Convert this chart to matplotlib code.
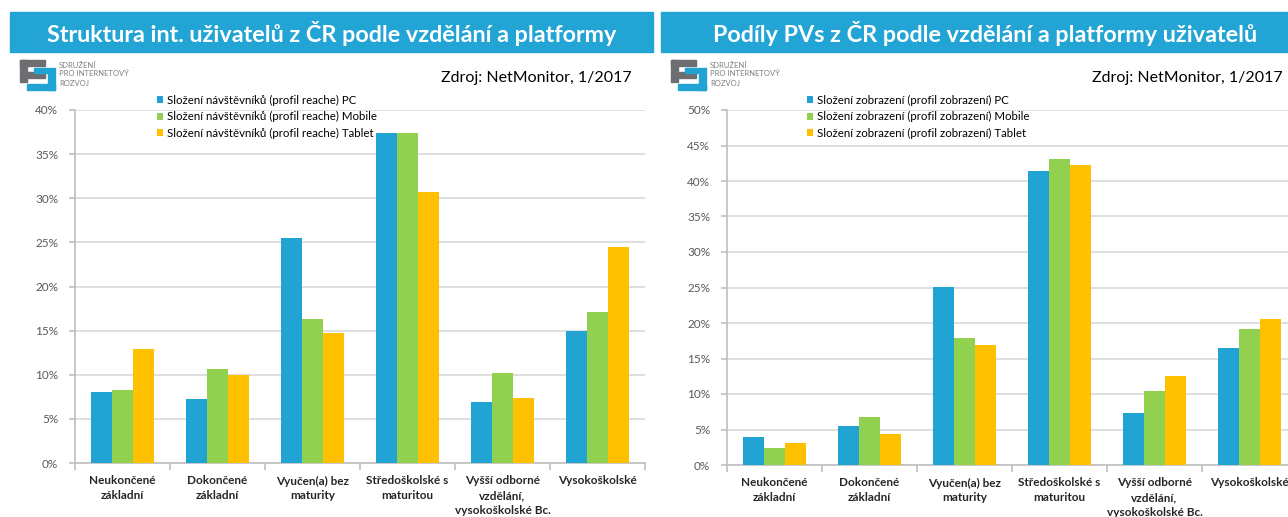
import matplotlib
matplotlib.use('Agg')
import matplotlib.pyplot as plt
from matplotlib.patches import Rectangle
from matplotlib.ticker import PercentFormatter, FixedLocator
import numpy as np

W, H = 1288, 517

categories = ['Neukončené\nzákladní', 'Dokončené\nzákladní', 'Vyučen(a) bez\nmaturity',
              'Středoškolské s\nmaturitou', 'Vyšší odborné\nvzdělání,\nvysokoškolské Bc.',
              'Vysokoškolské']

# levý graf - struktura uživatelů (profil reache), v %
reach_pc = [8.1, 7.2, 25.5, 37.4, 6.9, 15.0]
reach_mobile = [8.3, 10.7, 16.3, 37.4, 10.2, 17.1]
reach_tablet = [12.9, 10.0, 14.7, 30.7, 7.4, 24.5]
reach_labels = ['Složení návštěvníků (profil reache) PC',
                'Složení návštěvníků (profil reache) Mobile',
                'Složení návštěvníků (profil reache) Tablet']

# pravý graf - podíly PVs (profil zobrazení), v %
pv_pc = [4.0, 5.5, 25.1, 41.4, 7.3, 16.5]
pv_mobile = [2.4, 6.8, 17.9, 43.1, 10.4, 19.2]
pv_tablet = [3.1, 4.4, 16.9, 42.2, 12.6, 20.6]
pv_labels = ['Složení zobrazení (profil zobrazení) PC',
             'Složení zobrazení (profil zobrazení) Mobile',
             'Složení zobrazení (profil zobrazení) Tablet']

titles = ['Struktura int. uživatelů z ČR podle vzdělání a platformy',
          'Podíly PVs z ČR podle vzdělání a platformy uživatelů']
source = 'Zdroj: NetMonitor, 1/2017'

colors = ['#21A3D3', '#92D050', '#FFC000']
banner_color = '#22A4D4'
grid_color = '#D9D9D9'
axis_color = '#BFBFBF'
tick_color = '#595959'

plt.rcParams['font.family'] = ['Lato', 'DejaVu Sans']


def fx(x):
    return x / W


def fy(y):
    return 1 - y / H


fig = plt.figure(figsize=(W / 100, H / 100), dpi=100)


def draw_header(x0, x1, title_cx, title, src_right):
    fig.patches.append(Rectangle((fx(x0), fy(52)), fx(x1 - x0), 40 / H,
                                 transform=fig.transFigure, color=banner_color, zorder=0))
    fig.text(fx(title_cx), fy(33), title, color='white', fontsize=16.8, fontweight='bold',
             ha='center', va='center')
    fig.text(fx(src_right), fy(78), source, color='black', fontsize=11.5,
             ha='right', va='center')
    # logo SPIR
    gray = '#6D6E71'
    blue = '#21A3D3'
    lx, ly = x0 + 10, 60
    shapes = [
        (lx, ly, 25, 6, gray), (lx, ly, 7, 22, gray), (lx + 7, ly + 12, 18, 6, gray),
        (lx + 28, ly + 8, 7, 22, blue), (lx + 7, ly + 24, 28, 6, blue),
        (lx + 14, ly + 8, 14, 5, blue),
    ]
    for sx, sy, sw, sh, c in shapes:
        fig.patches.append(Rectangle((fx(sx), fy(sy + sh)), sw / W, sh / H,
                                     transform=fig.transFigure, color=c, zorder=1))
    for i, line in enumerate(['SDRUŽENÍ', 'PRO INTERNETOVÝ', 'ROZVOJ']):
        fig.text(fx(lx + 39), fy(ly + 5 + 9 * i), line, color='#7F7F7F', fontsize=5.5,
                 ha='left', va='center')


def draw_chart(rect, series, labels, ymax, legend_xy):
    ax = fig.add_axes(rect)
    x = np.arange(len(categories))
    w = 0.218
    for k, (vals, lab) in enumerate(zip(series, labels)):
        ax.bar(x + (k - 1) * w, vals, width=w, color=colors[k], label=lab, zorder=3)
    ax.set_xlim(-0.5, len(categories) - 0.5)
    ax.set_ylim(0, ymax)
    ax.yaxis.set_major_locator(FixedLocator(np.arange(0, ymax + 0.1, 5)))
    ax.yaxis.set_major_formatter(PercentFormatter(decimals=0))
    ax.grid(axis='y', color=grid_color, linewidth=1.2, zorder=0)
    ax.set_axisbelow(True)
    for s in ['top', 'right']:
        ax.spines[s].set_visible(False)
    for s in ['left', 'bottom']:
        ax.spines[s].set_color(axis_color)
        ax.spines[s].set_linewidth(1.2)
    ax.set_xticks(np.arange(-0.5, len(categories), 1.0))
    ax.set_xticklabels([])
    ax.set_xticks(x, minor=True)
    ax.set_xticklabels(categories, minor=True, fontsize=8.5, fontweight='bold', color='#262626',
                       linespacing=1.4, va='top')
    ax.tick_params(axis='x', which='major', length=5, color=axis_color, width=1.2)
    ax.tick_params(axis='x', which='minor', length=0, pad=9)
    ax.tick_params(axis='y', length=4, color=axis_color, width=1.2, labelsize=8.5,
                   labelcolor=tick_color, pad=8)
    ax.legend(loc='upper left', bbox_to_anchor=legend_xy, bbox_transform=fig.transFigure,
              frameon=False, fontsize=8.3, handlelength=0.55, handleheight=0.55,
              handletextpad=0.35, labelspacing=0.45, borderpad=0, borderaxespad=0)
    return ax


draw_header(10, 653, 332, titles[0], 632)
draw_header(661, W + 20, 985, titles[1], 1283)

draw_chart([fx(75), fy(463), 570 / W, 353 / H],
           [reach_pc, reach_mobile, reach_tablet], reach_labels, 40, (fx(157), fy(95)))
draw_chart([fx(727), fy(465), 570 / W, 355 / H],
           [pv_pc, pv_mobile, pv_tablet], pv_labels, 50, (fx(807), fy(95)))

fig.savefig('out.png', dpi=100)
